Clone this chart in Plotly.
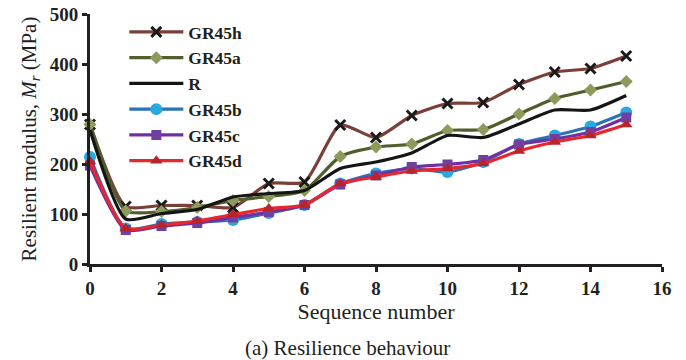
import plotly.graph_objects as go

seq = list(range(16))

gr45h = [279, 115, 117, 117, 113, 161, 164, 278, 253, 297, 321, 323, 359, 384, 391, 416]
gr45a = [279, 106, 105, 113, 127, 135, 147, 215, 234, 240, 267, 269, 300, 331, 348, 365]
r_ref = [268, 90, 101, 109, 134, 141, 147, 191, 204, 222, 257, 253, 280, 308, 308, 337]
gr45b = [214, 71, 80, 84, 88, 102, 118, 161, 181, 191, 184, 204, 240, 257, 275, 303]
gr45c = [197, 68, 76, 82, 93, 104, 118, 159, 177, 194, 199, 208, 239, 250, 264, 293]
gr45d = [205, 71, 78, 86, 99, 111, 118, 161, 174, 186, 191, 201, 226, 244, 257, 279]

series = [
    ("GR45h", gr45h, "#7a4038", dict(symbol="x-thin", size=10, color="#1a1a1a",
                                     line=dict(width=3, color="#1a1a1a"))),
    ("GR45a", gr45a, "#505d2c", dict(symbol="diamond", size=10, color="#8c9a5c")),
    ("R", r_ref, "#151515", None),
    ("GR45b", gr45b, "#2a73b8", dict(symbol="circle", size=12, color="#29a9e0")),
    ("GR45c", gr45c, "#7130a0", dict(symbol="square", size=10, color="#7040a0")),
    ("GR45d", gr45d, "#e8262e", dict(symbol="triangle-up", size=11, color="#b8242c")),
]

fig = go.Figure()
for name, vals, lcolor, marker in series:
    fig.add_trace(go.Scatter(
        x=seq, y=vals, name=name,
        mode="lines+markers" if marker else "lines",
        line=dict(color=lcolor, width=3.2, shape="spline", smoothing=0.6),
        marker=marker if marker else None,
        cliponaxis=False,
    ))

serif = "Times New Roman, Liberation Serif, serif"
ink = "#231f20"
fig.update_layout(
    width=686, height=360,
    margin=dict(l=90, r=24, t=14, b=96),
    paper_bgcolor="white", plot_bgcolor="white",
    font=dict(family=serif, color=ink),
    showlegend=True,
    legend=dict(
        x=0.06, y=1.0, xanchor="left", yanchor="top",
        bgcolor="rgba(0,0,0,0)",
        font=dict(family=serif, size=17.5, color=ink, weight="bold"),
        tracegroupgap=0, itemwidth=54,
    ),
    xaxis=dict(
        range=[0, 16], dtick=2, showgrid=False, zeroline=False, automargin=False,
        showline=True, linecolor=ink, linewidth=3,
        ticks="outside", ticklen=5, tickwidth=3, tickcolor=ink,
        tickfont=dict(family=serif, size=19, weight="bold"),
        title=dict(text="Sequence number", font=dict(family=serif, size=22), standoff=0),
    ),
    yaxis=dict(
        range=[0, 500], dtick=100, showgrid=False, zeroline=False, automargin=False,
        showline=True, linecolor=ink, linewidth=3,
        ticks="outside", ticklen=5, tickwidth=3, tickcolor=ink,
        tickfont=dict(family=serif, size=19, weight="bold"),
        title=dict(text="Resilient modulus, <i>M</i><sub><i>r</i></sub> (MPa)",
                   font=dict(family=serif, size=21), standoff=8),
    ),
    annotations=[dict(
        text="(a) Resilience behaviour", xref="paper", yref="paper",
        x=0.45, y=-0.28, xanchor="center", yanchor="top", showarrow=False,
        font=dict(family=serif, size=21, color=ink),
    )],
)

fig.write_html("out.html")
